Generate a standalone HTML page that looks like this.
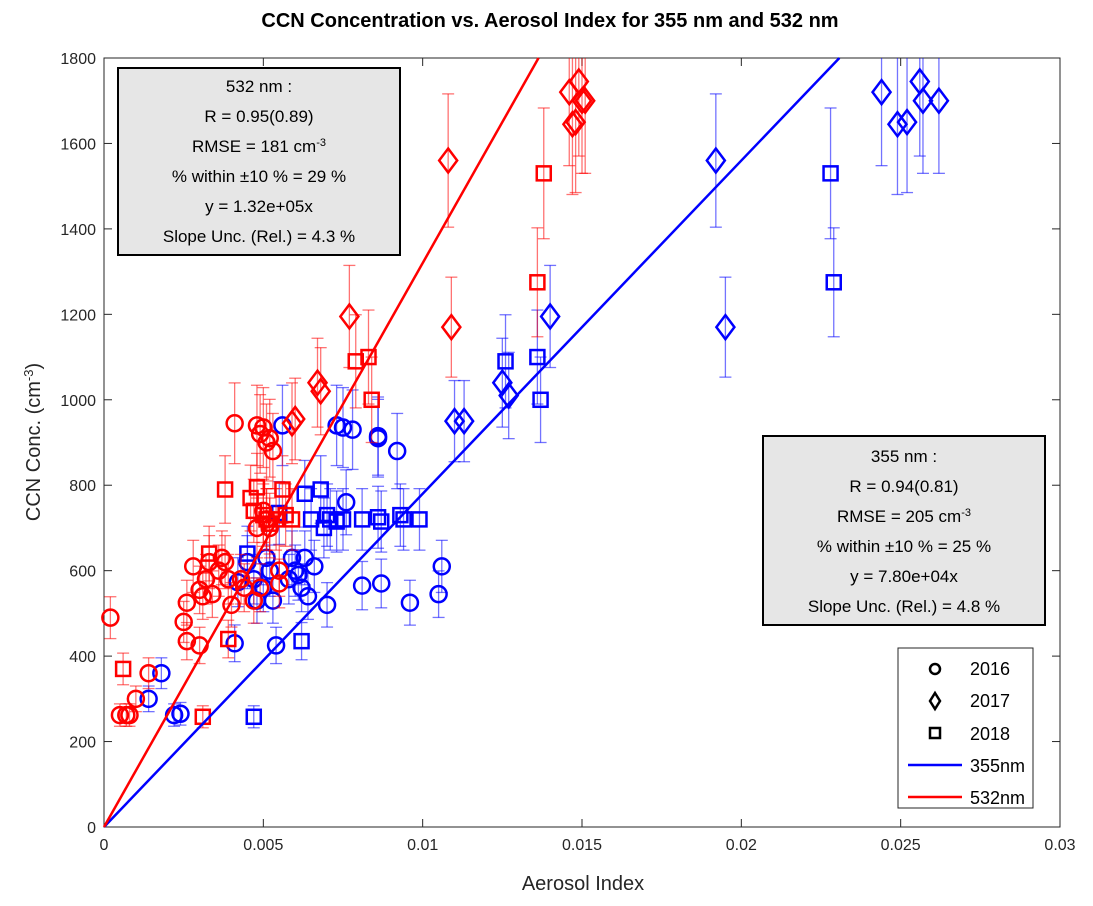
<!DOCTYPE html>
<html><head><meta charset="utf-8"><style>
body{margin:0;background:#fff;font-family:"Liberation Sans",Arial,sans-serif}
</style></head><body>
<svg id="chart" width="1093" height="901" xmlns="http://www.w3.org/2000/svg" font-family="Liberation Sans, Arial, sans-serif">
<text x="550" y="27" text-anchor="middle" font-size="20" font-weight="bold">CCN Concentration vs. Aerosol Index for 355 nm and 532 nm</text>
<rect x="104" y="58" width="956" height="769" fill="#fff" stroke="#262626" stroke-width="1"/>
<g id="ticks"></g>
<g id="marks"></g>
<text x="583" y="890" text-anchor="middle" font-size="20" fill="#262626">Aerosol Index</text>
<text transform="translate(40,442) rotate(-90)" text-anchor="middle" font-size="20" fill="#262626">CCN Conc. (cm<tspan baseline-shift="super" font-size="13">-3</tspan>)</text>
<g>
<rect x="118" y="68" width="282" height="187" fill="#e6e6e6" stroke="#000" stroke-width="2"/>
<g font-size="17" text-anchor="middle">
<text x="259" y="92">532 nm :</text>
<text x="259" y="122">R = 0.95(0.89)</text>
<text x="259" y="152">RMSE = 181 cm<tspan baseline-shift="super" font-size="11">-3</tspan></text>
<text x="259" y="182">% within ±10 % = 29 %</text>
<text x="259" y="212">y = 1.32e+05x</text>
<text x="259" y="242">Slope Unc. (Rel.) = 4.3 %</text></g></g>
<g>
<rect x="763" y="436" width="282" height="189" fill="#e6e6e6" stroke="#000" stroke-width="2"/>
<g font-size="17" text-anchor="middle">
<text x="904" y="462">355 nm :</text>
<text x="904" y="492">R = 0.94(0.81)</text>
<text x="904" y="522">RMSE = 205 cm<tspan baseline-shift="super" font-size="11">-3</tspan></text>
<text x="904" y="552">% within ±10 % = 25 %</text>
<text x="904" y="582">y = 7.80e+04x</text>
<text x="904" y="612">Slope Unc. (Rel.) = 4.8 %</text></g></g>
<g>
<rect x="898" y="648" width="135" height="160" fill="#fff" stroke="#262626" stroke-width="1"/>
<g font-size="18">
<circle cx="935" cy="669" r="5" fill="none" stroke="#000" stroke-width="2.5"/><text x="970" y="675">2016</text>
<path d="M935 693 l5 8 l-5 8 l-5 -8z" fill="none" stroke="#000" stroke-width="2.5"/><text x="970" y="707">2017</text>
<rect x="930" y="728" width="10" height="10" fill="none" stroke="#000" stroke-width="2.5"/><text x="970" y="740">2018</text>
<line x1="908" y1="765" x2="962" y2="765" stroke="#0000ff" stroke-width="2.5"/><text x="970" y="772">355nm</text>
<line x1="908" y1="797" x2="962" y2="797" stroke="#ff0000" stroke-width="2.5"/><text x="970" y="804">532nm</text>
</g></g>
</svg>
<script>
const xTicks=[0,0.005,0.01,0.015,0.02,0.025,0.03];
const xTickLabels=["0","0.005","0.01","0.015","0.02","0.025","0.03"];
const yTicks=[0,200,400,600,800,1000,1200,1400,1600,1800];
const slope355=7.8e4, slope532=1.32e5;
const blueCircX=[0.0018,0.0014,0.0022,0.0024,0.0041,0.0042,0.0045,0.0047,0.0050,0.0051,0.0052,0.0053,0.0054,0.0058,0.0059,0.0060,0.0061,0.0062,0.0063,0.0064,0.0066,0.0070,0.0073,0.0075,0.0078,0.0076,0.0081,0.0086,0.0086,0.0087,0.0092,0.0096,0.0105,0.0106,0.0056,0.0048];
const blueCircY=[360,300,262,265,430,573,620,580,560,630,600,530,425,580,630,600,590,560,630,540,610,520,940,935,930,760,565,915,910,570,880,525,545,610,940,530];
const blueDiaX=[0.0125,0.0127,0.0110,0.0113,0.0140,0.0192,0.0195,0.0244,0.0249,0.0252,0.0256,0.0257,0.0262];
const blueDiaY=[1040,1010,950,950,1195,1560,1170,1720,1645,1650,1745,1700,1700];
const blueSqX=[0.0047,0.0062,0.0045,0.0063,0.0068,0.0069,0.0070,0.0071,0.0073,0.0075,0.0081,0.0086,0.0087,0.0093,0.0094,0.0099,0.0126,0.0136,0.0137,0.0228,0.0229,0.0055,0.0065];
const blueSqY=[258,435,640,780,790,700,730,720,715,720,720,725,715,730,720,720,1090,1100,1000,1530,1275,735,720];
const redCircX=[0.0002,0.0005,0.0007,0.0008,0.0010,0.0014,0.0025,0.0026,0.0026,0.0028,0.0030,0.0030,0.0031,0.0032,0.0033,0.0034,0.0036,0.0037,0.0038,0.0039,0.0040,0.0041,0.0043,0.0044,0.0047,0.0048,0.0049,0.0050,0.0051,0.0052,0.0053,0.0050,0.0051,0.0052,0.0055,0.0055,0.0049,0.0048];
const redCircY=[490,262,262,262,300,360,480,525,435,610,425,555,540,580,620,545,600,630,620,580,520,945,580,560,530,940,920,935,900,910,880,740,720,700,600,570,560,700];
const redDiaX=[0.0059,0.0060,0.0067,0.0068,0.0077,0.0108,0.0109,0.0146,0.0147,0.0148,0.0149,0.0150,0.0151];
const redDiaY=[945,955,1040,1020,1195,1560,1170,1720,1645,1650,1745,1700,1700];
const redSqX=[0.0006,0.0031,0.0038,0.0039,0.0046,0.0048,0.0050,0.0051,0.0052,0.0054,0.0056,0.0057,0.0059,0.0079,0.0083,0.0084,0.0138,0.0136,0.0033,0.0047];
const redSqY=[370,258,790,440,770,795,730,720,710,720,790,730,720,1090,1100,1000,1530,1275,640,740];

const NS="http://www.w3.org/2000/svg";
const L=104,R=1060,T=58,B=827;
const sx=v=>L+v/0.03*(R-L), sy=v=>B-v/1800*(B-T);
function mk(tag,attrs,parent){const e=document.createElementNS(NS,tag);for(const k in attrs)e.setAttribute(k,attrs[k]);parent.appendChild(e);return e;}
const tg=document.getElementById('ticks'), mg=document.getElementById('marks');
xTicks.forEach((t,i)=>{const x=sx(t);
 mk('line',{x1:x,y1:B,x2:x,y2:B-8,stroke:'#262626'},tg);mk('line',{x1:x,y1:T,x2:x,y2:T+8,stroke:'#262626'},tg);
 const tx=mk('text',{x:x,y:B+23,'text-anchor':'middle','font-size':16,fill:'#262626'},tg);tx.textContent=xTickLabels[i];
 
 });
yTicks.forEach(t=>{const y=sy(t);
 mk('line',{x1:L,y1:y,x2:L+8,y2:y,stroke:'#262626'},tg);mk('line',{x1:R,y1:y,x2:R-8,y2:y,stroke:'#262626'},tg);
 const tx=mk('text',{x:L-8,y:y+6,'text-anchor':'end','font-size':16,fill:'#262626'},tg);tx.textContent=String(t);
 
 });
function series(xs,ys,shape,col,ecol,name){
 const g=mk('g',{},mg);
 
 
 xs.forEach((xv,i)=>{const x=sx(xv),y=sy(ys[i]);const e=ys[i]*0.1;
  const y1=Math.max(sy(ys[i]+e),T),y2=sy(ys[i]-e);
  mk('line',{x1:x,y1:y1,x2:x,y2:y2,stroke:ecol,'stroke-width':1.3},g);
  if(ys[i]+e<1800)mk('line',{x1:x-6,y1:y1,x2:x+6,y2:y1,stroke:ecol,'stroke-width':1.3},g);
  mk('line',{x1:x-6,y1:y2,x2:x+6,y2:y2,stroke:ecol,'stroke-width':1.3},g);
  let m;
  if(shape==='c')m=mk('circle',{cx:x,cy:y,r:8,fill:'none',stroke:col,'stroke-width':2.5},g);
  else if(shape==='d')m=mk('path',{d:`M${x} ${y-12} L${x+9} ${y} L${x} ${y+12} L${x-9} ${y}Z`,fill:'none',stroke:col,'stroke-width':2.5},g);
  else m=mk('rect',{x:x-7,y:y-7,width:14,height:14,fill:'none',stroke:col,'stroke-width':2.5},g);
  
  
 });
}
series(blueCircX,blueCircY,'c','#0000ff','rgba(0,0,255,0.55)','blue-2016');
series(blueDiaX,blueDiaY,'d','#0000ff','rgba(0,0,255,0.55)','blue-2017');
series(blueSqX,blueSqY,'s','#0000ff','rgba(0,0,255,0.55)','blue-2018');
series(redCircX,redCircY,'c','#ff0000','rgba(255,0,0,0.55)','red-2016');
series(redDiaX,redDiaY,'d','#ff0000','rgba(255,0,0,0.55)','red-2017');
series(redSqX,redSqY,'s','#ff0000','rgba(255,0,0,0.55)','red-2018');
const l1=mk('line',{x1:sx(0),y1:sy(0),x2:sx(1800/slope355),y2:sy(1800),stroke:'#0000ff','stroke-width':2.5},mg);


const l2=mk('line',{x1:sx(0),y1:sy(0),x2:sx(1800/slope532),y2:sy(1800),stroke:'#ff0000','stroke-width':2.5},mg);


</script>
</body></html>
